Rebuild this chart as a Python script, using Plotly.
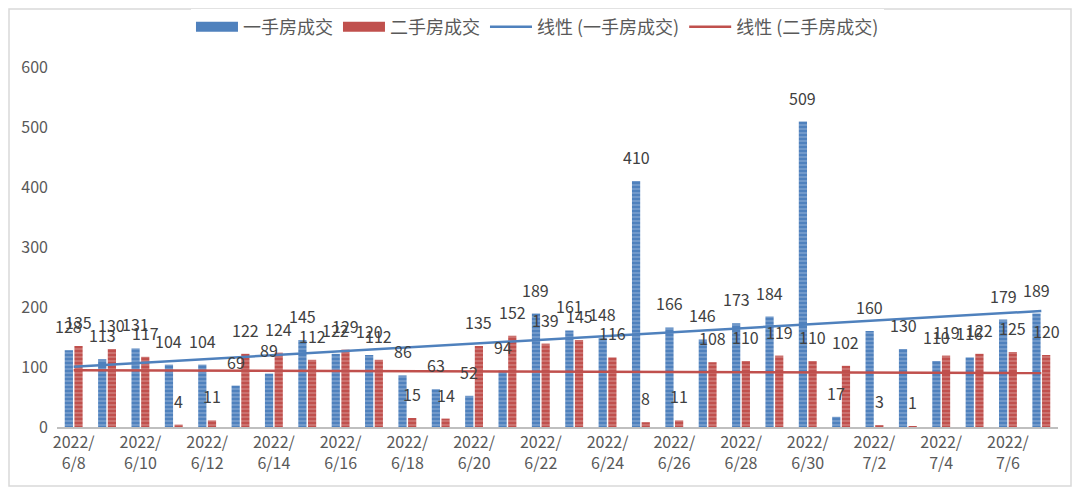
import numpy as np
import plotly.graph_objects as go

dates = ["6/8","6/9","6/10","6/11","6/12","6/13","6/14","6/15","6/16","6/17",
         "6/18","6/19","6/20","6/21","6/22","6/23","6/24","6/25","6/26","6/27",
         "6/28","6/29","6/30","7/1","7/2","7/3","7/4","7/5","7/6","7/7"]
new_home = [128,113,131,104,104,69,89,145,122,120,86,63,52,94,189,161,148,410,166,146,
            173,184,509,17,160,130,110,116,179,189]
second_home = [135,130,117,4,11,122,124,112,129,112,15,14,135,152,139,145,116,8,11,108,
               110,119,110,102,3,1,119,122,125,120]
y_ticks = [0,100,200,300,400,500,600]

cats = ["2022/" + d for d in dates]
idx = np.arange(1, len(cats) + 1)
p1 = np.polyfit(idx, new_home, 1)
p2 = np.polyfit(idx, second_home, 1)
trend1 = np.polyval(p1, idx)
trend2 = np.polyval(p2, idx)

BLUE = "#4F81BD"
RED = "#C0504D"
FONT = "Noto Sans CJK SC"
LBL = "#404040"

W, H = 1064, 479
L, T, PW, PH = 49, 59, 1001, 360
BARGAP = 0.42
slot_px = PW / len(cats)
bar_off_px = (1 - BARGAP) / 4 * slot_px   # distance from group centre to each bar centre

pat = dict(shape="-", fgcolor="rgba(255,255,255,0.55)", size=4, solidity=0.35)

fig = go.Figure()
fig.add_trace(go.Bar(
    x=cats, y=new_home, name="一手房成交", showlegend=False,
    marker=dict(color=BLUE, line=dict(width=0), pattern=pat),
))
fig.add_trace(go.Bar(
    x=cats, y=second_home, name="二手房成交", showlegend=False,
    marker=dict(color=RED, line=dict(width=0), pattern=pat),
))
# legend-only entries giving wide rectangular swatches for the bars
fig.add_trace(go.Scatter(x=[None], y=[None], mode="lines", name="一手房成交",
                         line=dict(color=BLUE, width=10)))
fig.add_trace(go.Scatter(x=[None], y=[None], mode="lines", name="二手房成交",
                         line=dict(color=RED, width=10)))
fig.add_trace(go.Scatter(
    x=cats, y=trend1, mode="lines", name="线性 (一手房成交)",
    line=dict(color=BLUE, width=2.5), hoverinfo="skip",
))
fig.add_trace(go.Scatter(
    x=cats, y=trend2, mode="lines", name="线性 (二手房成交)",
    line=dict(color=RED, width=2.5), hoverinfo="skip",
))

annotations = []
for c, v in zip(cats, new_home):
    annotations.append(dict(x=c, y=v, text=str(v), showarrow=False, yanchor="bottom",
                            xshift=-bar_off_px, yshift=10,
                            font=dict(size=16, color=LBL, family=FONT)))
for c, v in zip(cats, second_home):
    annotations.append(dict(x=c, y=v, text=str(v), showarrow=False, yanchor="bottom",
                            xshift=bar_off_px, yshift=10,
                            font=dict(size=16, color=LBL, family=FONT)))

tickvals = cats[::2]
ticktext = ["2022/<br>" + d for d in dates[::2]]

fig.update_layout(
    width=W, height=H,
    margin=dict(l=L, r=W - L - PW, t=T, b=H - T - PH, autoexpand=False),
    paper_bgcolor="white", plot_bgcolor="white",
    font=dict(family=FONT, color="#595959", size=15),
    barmode="group", bargap=BARGAP, bargroupgap=0.15,
    showlegend=True,
    legend=dict(orientation="h", x=0.48, xanchor="center", y=1 + 40 / PH, yanchor="middle",
                font=dict(size=18, color="#595959", family=FONT), traceorder="normal",
                itemwidth=42, tracegroupgap=0),
    xaxis=dict(type="category", tickmode="array", tickvals=tickvals, ticktext=ticktext,
               range=[-0.5, len(cats) - 0.5], showline=True, linecolor="#BFBFBF", linewidth=2,
               ticks="", showgrid=False, tickfont=dict(size=16, color="#595959")),
    yaxis=dict(range=[0, 600], tickvals=y_ticks, showgrid=False, zeroline=False,
               showline=False, ticks="", ticklabelstandoff=8,
               tickfont=dict(size=16, color="#595959")),
    annotations=annotations,
    shapes=[dict(type="rect", xref="paper", yref="paper",
                 x0=-(L - 1) / PW, x1=1 + (W - L - PW - 1) / PW,
                 y0=-(H - T - PH - 1) / PH, y1=1 + (T - 1) / PH,
                 line=dict(color="#D9D9D9", width=1.5))],
)

fig.write_html("out.html")
